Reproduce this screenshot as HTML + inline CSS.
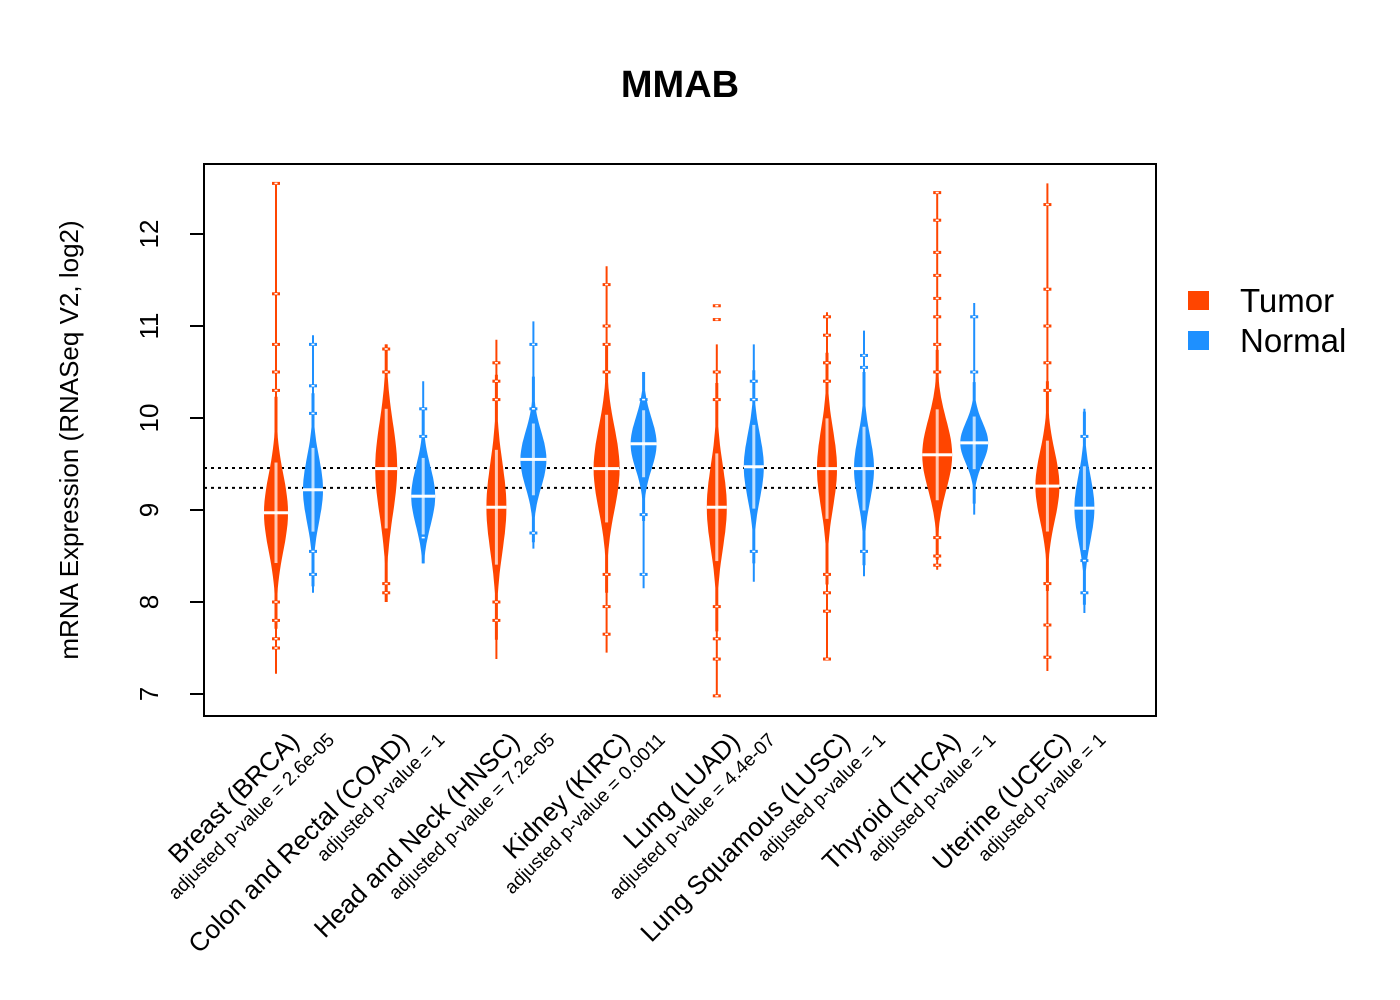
<!DOCTYPE html>
<html><head><meta charset="utf-8"><style>
body{margin:0;background:#fff}
svg{display:block;font-family:"Liberation Sans",Arial,sans-serif}
</style></head><body>
<svg id="chart" width="1400" height="1000" viewBox="0 0 1400 1000">
<rect width="1400" height="1000" fill="#fff"/>
<text x="680" y="97" font-size="38" font-weight="bold" text-anchor="middle">MMAB</text>
<text transform="translate(78,440) rotate(-90)" font-size="26" text-anchor="middle">mRNA Expression (RNASeq V2, log2)</text>
<g id="lines"></g>
<g id="violins"></g>
<rect x="204" y="164" width="952" height="552" fill="none" stroke="#000" stroke-width="2"/>
<g id="yaxis"></g>
<g id="xlabels"></g>
<g>
<rect x="1188" y="291" width="21" height="19" fill="#FF4500"/>
<text x="1240" y="312" font-size="33">Tumor</text>
<rect x="1188" y="331" width="21" height="19" fill="#1E90FF"/>
<text x="1240" y="352" font-size="33">Normal</text>
</g>
</svg>
<script>
const categories = ["Breast (BRCA)","Colon and Rectal (COAD)","Head and Neck (HNSC)","Kidney (KIRC)","Lung (LUAD)","Lung Squamous (LUSC)","Thyroid (THCA)","Uterine (UCEC)"];
const pvalues = ["adjusted p-value = 2.6e-05","adjusted p-value = 1","adjusted p-value = 7.2e-05","adjusted p-value = 0.0011","adjusted p-value = 4.4e-07","adjusted p-value = 1","adjusted p-value = 1","adjusted p-value = 1"];
const yTicks = [7,8,9,10,11,12];
const refLines = [9.457, 9.24];
const tumorMin = [7.22,8.0,7.38,7.45,6.98,7.38,8.35,7.25];
const tumorMax = [12.55,10.8,10.85,11.65,10.8,11.15,12.45,12.55];
const tumorMedian = [8.97,9.45,9.03,9.45,9.03,9.45,9.6,9.26];
const tumorSpread = [0.42,0.5,0.48,0.45,0.45,0.42,0.38,0.38];
const tumorWidth = [12,11,10,13,10,10,15,12];
const normalMin = [8.1,8.42,8.58,8.15,8.22,8.28,8.95,7.88];
const normalMax = [10.9,10.4,11.05,10.5,10.8,10.95,11.25,10.1];
const normalMedian = [9.22,9.15,9.55,9.72,9.47,9.45,9.73,9.02];
const normalSpread = [0.35,0.32,0.3,0.28,0.35,0.35,0.22,0.35];
const normalWidth = [10,12,13,13,10,10,14,10];
const tumorOutliers = [[12.55,11.35,10.8,10.5,10.3,8.0,7.8,7.6,7.5],[10.75,10.5,8.2,8.1],[10.6,10.4,10.2,8.0,7.8],[11.45,11.0,10.8,10.5,8.3,7.95,7.65],[11.22,11.07,10.5,10.2,7.95,7.6,7.38,6.98],[11.1,10.9,10.6,10.4,8.3,8.1,7.9,7.38],[12.45,12.15,11.8,11.55,11.3,11.1,10.8,10.5,8.7,8.5,8.4],[12.32,11.4,11.0,10.6,10.3,8.2,7.75,7.4]];
const normalOutliers = [[10.8,10.35,10.05,8.55,8.3],[10.1,9.8,8.7],[10.8,10.1,8.75],[10.2,8.95,8.3],[10.4,10.2,8.55],[10.68,10.55,8.55],[11.1,10.5],[9.8,8.45,8.1]];

const NS = "http://www.w3.org/2000/svg";
const y = v => 694 - (v - 7) * 92;
const gx = i => 294.5 + i * 110.2;
function mk(tag, attrs, parent){const e=document.createElementNS(NS,tag);for(const k in attrs)e.setAttribute(k,attrs[k]);parent.appendChild(e);return e;}
const lines=document.getElementById('lines'), vg=document.getElementById('violins'), ya=document.getElementById('yaxis'), xl=document.getElementById('xlabels');
refLines.forEach((v,i)=>{
  const l=mk('line',{x1:204,x2:1156,y1:y(v),y2:y(v),stroke:'#000','stroke-width':2,'stroke-dasharray':'3,4'},lines);
  
  
});
yTicks.forEach(t=>{
  const l=mk('line',{x1:190,x2:204,y1:y(t),y2:y(t),stroke:'#000','stroke-width':2},ya);
  
  
  const tx=mk('text',{transform:`translate(158,${y(t)}) rotate(-90)`,'font-size':26,'text-anchor':'middle'},ya);
  tx.textContent=t;
  
  
});
function violin(cx,mn,mx,med,sd,hw,outs,color,name){
  const g=mk('g',{},vg);
  
  
  mk('line',{x1:cx,x2:cx,y1:y(mn),y2:y(mx),stroke:color,'stroke-width':2},g);
  const lo=Math.max(mn,med-3*sd), hi=Math.min(mx,med+3*sd);
  const right=[], left=[];
  for(let k=0;k<=40;k++){const v=lo+(hi-lo)*k/40;const w=Math.max(1.5,hw*Math.exp(-0.5*((v-med)/sd)**2));right.push([cx+w,y(v)]);left.unshift([cx-w,y(v)]);}
  const pts=right.concat(left).map(p=>p[0].toFixed(1)+','+p[1].toFixed(1)).join(' ');
  mk('polygon',{points:pts,fill:color},g);
  mk('rect',{x:cx-1.5,y:y(med+1.3*sd),width:3,height:y(med-1.3*sd)-y(med+1.3*sd),fill:'#fff',opacity:0.7},g);
  outs.forEach(o=>{mk('rect',{x:cx-4,y:y(o)-1.5,width:8,height:3,fill:color},g);mk('rect',{x:cx-1.5,y:y(o)-0.8,width:3,height:1.6,fill:'#fff'},g);});
  mk('rect',{x:cx-hw,y:y(med)-1.5,width:hw*2,height:3,fill:'#fff'},g);
}
categories.forEach((c,i)=>{
  violin(gx(i)-18.5,tumorMin[i],tumorMax[i],tumorMedian[i],tumorSpread[i],tumorWidth[i],tumorOutliers[i],'#FF4500','violin-tumor-'+i);
  violin(gx(i)+18.5,normalMin[i],normalMax[i],normalMedian[i],normalSpread[i],normalWidth[i],normalOutliers[i],'#1E90FF','violin-normal-'+i);
  const t=mk('text',{transform:`translate(${gx(i)+6},${743}) rotate(-45)`,'font-size':26,'text-anchor':'end'},xl);
  t.textContent=c;
  
  
  const p=mk('text',{transform:`translate(${gx(i)+41},${741}) rotate(-45)`,'font-size':19,'text-anchor':'end'},xl);
  p.textContent=pvalues[i];
  
  
});
</script>
</body></html>
